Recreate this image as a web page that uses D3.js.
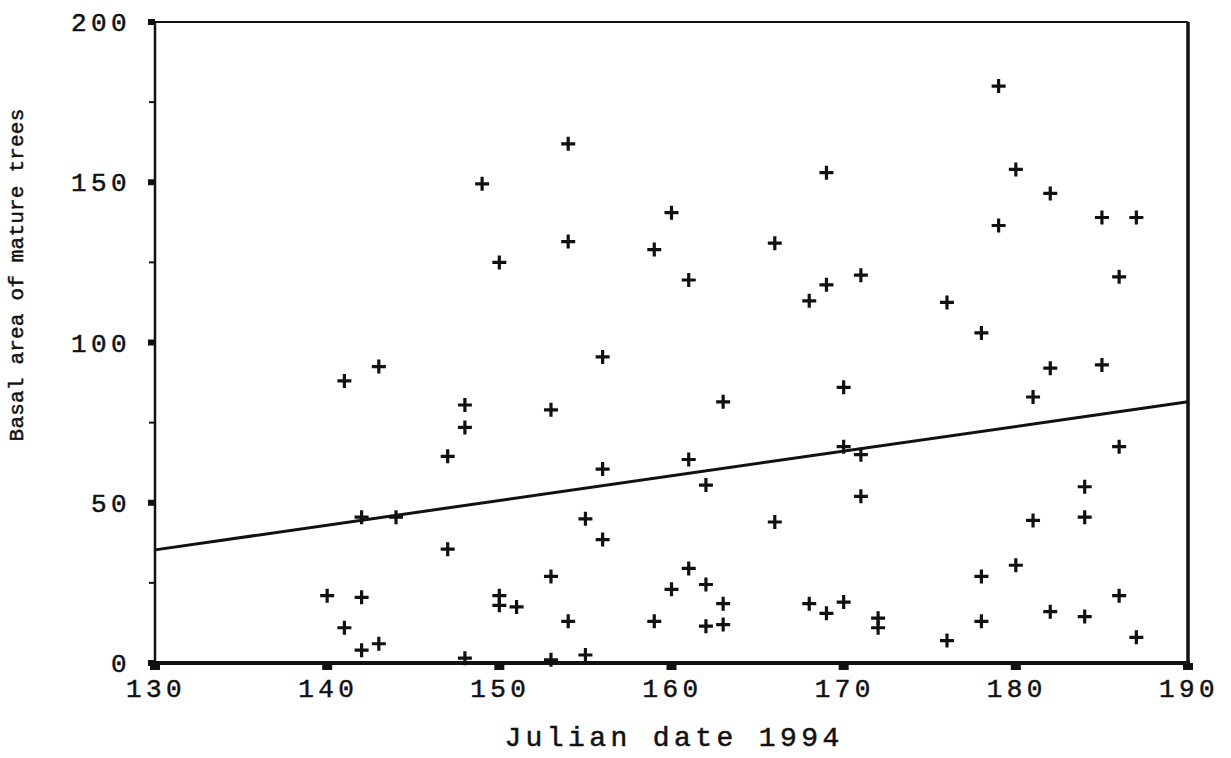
<!DOCTYPE html>
<html>
<head>
<meta charset="utf-8">
<script src="https://cdn.jsdelivr.net/npm/d3@7"></script>
<style>
  body { margin: 0; background: #fff; }
  text { font-family: "Liberation Mono", "DejaVu Sans Mono", monospace; fill: #111; stroke: #111; stroke-width: 0.5; }
</style>
</head>
<body>
<div id="chart"></div>
<script>
// julian date of each sample
var dates = [140, 141, 141, 142, 142, 142, 143, 143, 144,
  147, 147, 148, 148, 148, 149, 150, 150, 150, 151,
  153, 153, 153, 154, 154, 154, 155, 155, 156, 156, 156,
  159, 159, 160, 160, 161, 161, 161, 162, 162, 162, 163, 163, 163,
  166, 166, 168, 168, 169, 169, 169, 170, 170, 170, 171, 171, 171, 172, 172,
  176, 176, 178, 178, 178, 179, 179, 180, 180, 181, 181, 182, 182, 182,
  184, 184, 184, 185, 185, 186, 186, 186, 187, 187];
// basal area of mature trees
var basal = [21, 88, 11, 45.5, 20.5, 4, 92.5, 6, 45.5,
  64.5, 35.5, 80.5, 73.5, 1.5, 149.5, 125, 21, 18, 17.5,
  79, 27, 1, 162, 131.5, 13, 45, 2.5, 95.5, 60.5, 38.5,
  129, 13, 140.5, 23, 119.5, 63.5, 29.5, 55.5, 24.5, 11.5, 81.5, 18.5, 12,
  131, 44, 113, 18.5, 153, 118, 15.5, 86, 67.5, 19, 121, 65, 52, 14, 11,
  112.5, 7, 103, 27, 13, 180, 136.5, 154, 30.5, 83, 44.5, 146.5, 92, 16,
  55, 45.5, 14.5, 139, 93, 120.5, 67.5, 21, 139, 8];
// fitted line ends
var fitX = [130, 190];
var fitY = [35.3, 81.5];

var xTicks = [130, 140, 150, 160, 170, 180, 190];
var yTicks = [0, 50, 100, 150, 200];
var yMinor = [25, 75, 125, 175];

var W = 1231, H = 758;
var svg = d3.select("#chart").append("svg").attr("width", W).attr("height", H);

var x = d3.scaleLinear().domain([130, 190]).range([155, 1188]);
var y = d3.scaleLinear().domain([0, 200]).range([663, 22]);

// frame
svg.append("line").attr("x1", x(130)).attr("x2", x(190)).attr("y1", y(200)).attr("y2", y(200))
  .attr("stroke", "#111").attr("stroke-width", 2);
svg.append("line").attr("x1", x(190)).attr("x2", x(190)).attr("y1", y(200)).attr("y2", y(0))
  .attr("stroke", "#111").attr("stroke-width", 3.5);
svg.append("line").attr("x1", x(130)).attr("x2", x(130)).attr("y1", y(200)).attr("y2", y(0))
  .attr("stroke", "#111").attr("stroke-width", 2.5);
svg.append("line").attr("x1", x(130) - 3).attr("x2", x(190) + 2).attr("y1", y(0)).attr("y2", y(0))
  .attr("stroke", "#111").attr("stroke-width", 4);

// y ticks
svg.selectAll(".ymaj").data(yTicks).enter().append("rect")
  .attr("x", x(130) - 7).attr("y", function(d) { return y(d) - 3; })
  .attr("width", 7).attr("height", 6).attr("fill", "#111");
svg.selectAll(".ymin").data(yMinor).enter().append("line")
  .attr("x1", x(130) - 6).attr("x2", x(130)).attr("y1", function(d) { return y(d); }).attr("y2", function(d) { return y(d); })
  .attr("stroke", "#111").attr("stroke-width", 2);
svg.selectAll(".ylab").data(yTicks).enter().append("text")
  .attr("x", 131).attr("y", function(d) { return y(d) + 9; })
  .attr("text-anchor", "end").attr("font-size", 26).attr("letter-spacing", 4.4)
  .text(function(d) { return d; });

// x ticks
svg.selectAll(".xmaj").data(xTicks).enter().append("rect")
  .attr("x", function(d) { return x(d) - 5; }).attr("y", y(0))
  .attr("width", 10).attr("height", 7).attr("fill", "#111");
svg.selectAll(".xlab").data(xTicks).enter().append("text")
  .attr("x", function(d) { return x(d) + 1; }).attr("y", 697)
  .attr("text-anchor", "middle").attr("font-size", 26).attr("letter-spacing", 4.4)
  .text(function(d) { return d; });

// axis titles
svg.append("text").attr("x", 674).attr("y", 746).attr("text-anchor", "middle")
  .attr("font-size", 28).attr("letter-spacing", 4.4).text("Julian date 1994");
svg.append("text").attr("transform", "translate(23,275) rotate(-90)").attr("text-anchor", "middle")
  .attr("font-size", 21).attr("letter-spacing", 0.2).text("Basal area of mature trees");

// regression line
svg.append("line")
  .attr("x1", x(fitX[0])).attr("y1", y(fitY[0]))
  .attr("x2", x(fitX[1])).attr("y2", y(fitY[1]))
  .attr("stroke", "#111").attr("stroke-width", 3);

// plus markers
var pts = dates.map(function(d, i) { return [d, basal[i]]; });
var g = svg.selectAll(".pt").data(pts).enter().append("g")
  .attr("transform", function(d) { return "translate(" + x(d[0]) + "," + y(d[1]) + ")"; });
g.append("path").attr("d", "M-7,0H7M0,-7V7")
  .attr("stroke", "#111").attr("stroke-width", 3.2);
</script>
</body>
</html>
